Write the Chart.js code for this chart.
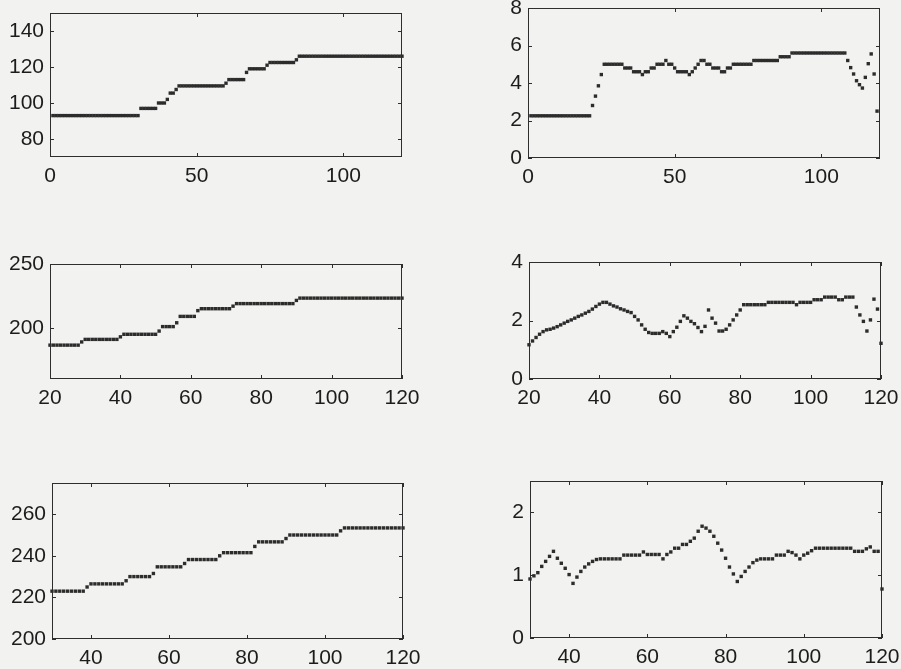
<!DOCTYPE html>
<html>
<head>
<meta charset="utf-8">
<script src="https://cdn.jsdelivr.net/npm/chart.js@4.4.0/dist/chart.umd.min.js"></script>
<style>
  html, body { margin: 0; padding: 0; background: #f2f2f0; }
  body { width: 901px; height: 669px; position: relative; overflow: hidden; }
  canvas { position: absolute; }
</style>
</head>
<body>
<canvas id="c1"></canvas>
<canvas id="c2"></canvas>
<canvas id="c3"></canvas>
<canvas id="c4"></canvas>
<canvas id="c5"></canvas>
<canvas id="c6"></canvas>
<script>
// ---- data (one value per integer x) ----
const p1Start = 1;
const p1Values = [
  93, 93, 93, 93, 93, 93, 93, 93, 93, 93,
  93, 93, 93, 93, 93, 93, 93, 93, 93, 93,
  93, 93, 93, 93, 93, 93, 93, 93, 93, 93,
  97, 97, 97, 97, 97, 97, 100, 100, 100, 102,
  105.5, 105.5, 107.5, 109.5, 109.5, 109.5, 109.5, 109.5, 109.5, 109.5,
  109.5, 109.5, 109.5, 109.5, 109.5, 109.5, 109.5, 109.5, 109.5, 111,
  113, 113, 113, 113, 113, 113, 117, 119, 119, 119,
  119, 119, 119, 121, 122.5, 122.5, 122.5, 122.5, 122.5, 122.5,
  122.5, 122.5, 122.5, 124, 126, 126, 126, 126, 126, 126,
  126, 126, 126, 126, 126, 126, 126, 126, 126, 126,
  126, 126, 126, 126, 126, 126, 126, 126, 126, 126,
  126, 126, 126, 126, 126, 126, 126, 126, 126, 126
];
const p1XTicks = [0, 50, 100];
const p1YTicks = [80, 100, 120, 140];

const p2Start = 1;
const p2Values = [
  2.25, 2.25, 2.25, 2.25, 2.25, 2.25, 2.25, 2.25, 2.25, 2.25,
  2.25, 2.25, 2.25, 2.25, 2.25, 2.25, 2.25, 2.25, 2.25, 2.25,
  2.25, 2.8, 3.3, 3.85, 4.45, 5.0, 5.0, 5.0, 5.0, 5.0,
  5.0, 5.0, 4.8, 4.8, 4.8, 4.6, 4.6, 4.6, 4.45, 4.6,
  4.6, 4.8, 4.8, 5.0, 5.0, 5.0, 5.2, 5.0, 5.0, 4.8,
  4.6, 4.6, 4.6, 4.6, 4.45, 4.6, 4.8, 5.0, 5.2, 5.2,
  5.0, 5.0, 4.8, 4.8, 4.8, 4.6, 4.6, 4.8, 4.8, 5.0,
  5.0, 5.0, 5.0, 5.0, 5.0, 5.0, 5.2, 5.2, 5.2, 5.2,
  5.2, 5.2, 5.2, 5.2, 5.2, 5.4, 5.4, 5.4, 5.4, 5.6,
  5.6, 5.6, 5.6, 5.6, 5.6, 5.6, 5.6, 5.6, 5.6, 5.6,
  5.6, 5.6, 5.6, 5.6, 5.6, 5.6, 5.6, 5.6, 5.2, 4.82,
  4.48, 4.12, 3.91, 3.73, 4.3, 5.03, 5.55, 4.48, 2.5
];
const p2XTicks = [0, 50, 100];
const p2YTicks = [0, 2, 4, 6, 8];

const p3Start = 20;
const p3Values = [
  186.5, 186.5, 186.5, 186.5, 186.5, 186.5, 186.5, 186.5, 186.5, 189,
  191, 191, 191, 191, 191, 191, 191, 191, 191, 191,
  193, 195, 195, 195, 195, 195, 195, 195, 195, 195,
  195, 197.5, 201, 201, 201, 201, 204, 209, 209, 209,
  209, 209, 213.5, 215, 215, 215, 215, 215, 215, 215,
  215, 215, 217, 219, 219, 219, 219, 219, 219, 219,
  219, 219, 219, 219, 219, 219, 219, 219, 219, 219,
  221.5, 223.3, 223.3, 223.3, 223.3, 223.3, 223.3, 223.3, 223.3, 223.3,
  223.3, 223.3, 223.3, 223.3, 223.3, 223.3, 223.3, 223.3, 223.3, 223.3,
  223.3, 223.3, 223.3, 223.3, 223.3, 223.3, 223.3, 223.3, 223.3, 223.3,
  223.3
];
const p3XTicks = [20, 40, 60, 80, 100, 120];
const p3YTicks = [200, 250];

const p4Start = 20;
const p4Values = [
  1.17, 1.30, 1.42, 1.53, 1.62, 1.68, 1.70, 1.74, 1.79, 1.85,
  1.91, 1.97, 2.02, 2.08, 2.14, 2.19, 2.25, 2.31, 2.39, 2.48,
  2.56, 2.62, 2.62, 2.56, 2.50, 2.46, 2.40, 2.36, 2.31, 2.27,
  2.14, 2.02, 1.85, 1.70, 1.59, 1.56, 1.56, 1.56, 1.62, 1.56,
  1.45, 1.62, 1.77, 1.97, 2.16, 2.08, 1.97, 1.89, 1.76, 1.62,
  1.80, 2.36, 2.08, 1.91, 1.64, 1.64, 1.70, 1.85, 2.02, 2.19,
  2.36, 2.54, 2.54, 2.54, 2.54, 2.54, 2.54, 2.54, 2.62, 2.62,
  2.62, 2.62, 2.62, 2.62, 2.62, 2.62, 2.54, 2.62, 2.62, 2.62,
  2.62, 2.71, 2.71, 2.71, 2.80, 2.80, 2.80, 2.80, 2.71, 2.71,
  2.80, 2.80, 2.80, 2.46, 2.19, 1.97, 1.64, 2.02, 2.73, 2.39,
  1.22
];
const p4XTicks = [20, 40, 60, 80, 100, 120];
const p4YTicks = [0, 2, 4];

const p5Start = 30;
const p5Values = [
  223, 223, 223, 223, 223, 223, 223, 223, 223, 225,
  226.5, 226.5, 226.5, 226.5, 226.5, 226.5, 226.5, 226.5, 226.5, 228,
  230, 230, 230, 230, 230, 230, 231.5, 234.7, 234.7, 234.7,
  234.7, 234.7, 234.7, 234.7, 236.3, 238.2, 238.2, 238.2, 238.2, 238.2,
  238.2, 238.2, 238.2, 240, 241.5, 241.5, 241.5, 241.5, 241.5, 241.5,
  241.5, 241.5, 244.5, 246.7, 246.7, 246.7, 246.7, 246.7, 246.7, 246.7,
  248.3, 250, 250, 250, 250, 250, 250, 250, 250, 250,
  250, 250, 250, 250, 252, 253.4, 253.4, 253.4, 253.4, 253.4,
  253.4, 253.4, 253.4, 253.4, 253.4, 253.4, 253.4, 253.4, 253.4, 253.4,
  253.4
];
const p5XTicks = [40, 60, 80, 100, 120];
const p5YTicks = [200, 220, 240, 260];

const p6Start = 30;
const p6Values = [
  0.94, 0.99, 1.04, 1.14, 1.22, 1.30, 1.38, 1.27, 1.19, 1.11,
  1.01, 0.87, 0.97, 1.06, 1.13, 1.18, 1.22, 1.25, 1.26, 1.26,
  1.26, 1.26, 1.26, 1.26, 1.32, 1.32, 1.32, 1.32, 1.32, 1.37,
  1.33, 1.33, 1.33, 1.33, 1.26, 1.33, 1.37, 1.43, 1.43, 1.49,
  1.49, 1.54, 1.59, 1.70, 1.78, 1.75, 1.70, 1.62, 1.51, 1.40,
  1.27, 1.13, 1.02, 0.90, 0.98, 1.06, 1.13, 1.20, 1.24, 1.26,
  1.26, 1.26, 1.26, 1.32, 1.32, 1.32, 1.38, 1.36, 1.32, 1.26,
  1.32, 1.35, 1.39, 1.43, 1.43, 1.43, 1.43, 1.43, 1.43, 1.43,
  1.43, 1.43, 1.43, 1.38, 1.38, 1.38, 1.42, 1.45, 1.38, 1.38,
  0.78
];
const p6XTicks = [40, 60, 80, 100, 120];
const p6YTicks = [0, 1, 2];

// ---- drawing ----
const FONT = { family: "'Liberation Sans', Arial, sans-serif", size: 21 };
const TEXT = '#1c1c1c';

// MATLAB-like frame with inward ticks on all four sides
const boxPlugin = {
  id: 'matlabBox',
  beforeDatasetsDraw(chart) {
    const { ctx, chartArea: a, scales: { x, y } } = chart;
    ctx.save();
    ctx.strokeStyle = '#2e2e2e';
    ctx.lineWidth = 1;
    ctx.strokeRect(a.left + 0.5, a.top + 0.5, a.right - a.left - 1, a.bottom - a.top - 1);
    ctx.beginPath();
    x.ticks.forEach(t => {
      const px = Math.round(x.getPixelForValue(t.value)) + 0.5;
      ctx.moveTo(px, a.bottom); ctx.lineTo(px, a.bottom - 4);
      ctx.moveTo(px, a.top); ctx.lineTo(px, a.top + 4);
    });
    y.ticks.forEach(t => {
      const py = Math.round(y.getPixelForValue(t.value)) + 0.5;
      ctx.moveTo(a.left, py); ctx.lineTo(a.left + 4, py);
      ctx.moveTo(a.right, py); ctx.lineTo(a.right - 4, py);
    });
    ctx.stroke();
    ctx.restore();
  }
};

function makePanel(id, rect, box, start, values, xRange, yRange, xTicks, yTicks) {
  const cv = document.getElementById(id);
  cv.width = rect.w;
  cv.height = rect.h;
  cv.style.left = rect.x + 'px';
  cv.style.top = rect.y + 'px';

  const pts = values.map((v, i) => ({ x: start + i, y: v }));

  new Chart(cv, {
    type: 'scatter',
    data: {
      datasets: [{
        data: pts,
        pointStyle: 'rect',
        pointRadius: 2.4,
        backgroundColor: '#2c2c2c',
        borderWidth: 0,
        clip: false
      }]
    },
    options: {
      responsive: false,
      animation: false,
      events: [],
      layout: {
        padding: { left: 0, top: box.t - rect.y, right: rect.x + rect.w - box.r, bottom: 0 }
      },
      plugins: { legend: { display: false }, tooltip: { enabled: false } },
      scales: {
        x: {
          type: 'linear',
          min: xRange[0], max: xRange[1],
          grid: { display: false, drawTicks: false },
          border: { display: false },
          afterBuildTicks: s => { s.ticks = xTicks.map(v => ({ value: v })); },
          afterFit: s => { s.height = rect.y + rect.h - box.b; s.paddingLeft = 0; s.paddingRight = 0; },
          ticks: { color: TEXT, font: FONT, padding: 7, maxRotation: 0, autoSkip: false }
        },
        y: {
          type: 'linear',
          min: yRange[0], max: yRange[1],
          grid: { display: false, drawTicks: false },
          border: { display: false },
          afterBuildTicks: s => { s.ticks = yTicks.map(v => ({ value: v })); },
          afterFit: s => { s.width = box.l - rect.x; s.paddingTop = 0; s.paddingBottom = 0; },
          ticks: { color: TEXT, font: FONT, padding: 6, autoSkip: false }
        }
      }
    },
    plugins: [boxPlugin]
  });
}

makePanel('c1', { x: 0, y: 0, w: 450, h: 222 }, { l: 50, t: 13, r: 402, b: 157 },
  p1Start, p1Values, [0, 120], [70, 150], p1XTicks, p1YTicks);
makePanel('c2', { x: 450, y: 0, w: 451, h: 222 }, { l: 528, t: 8, r: 880, b: 158 },
  p2Start, p2Values, [0, 120], [0, 8], p2XTicks, p2YTicks);
makePanel('c3', { x: 0, y: 222, w: 450, h: 222 }, { l: 50, t: 264, r: 402, b: 379 },
  p3Start, p3Values, [20, 120], [160, 250], p3XTicks, p3YTicks);
makePanel('c4', { x: 450, y: 222, w: 451, h: 222 }, { l: 529, t: 262, r: 881, b: 379 },
  p4Start, p4Values, [20, 120], [0, 4], p4XTicks, p4YTicks);
makePanel('c5', { x: 0, y: 444, w: 450, h: 225 }, { l: 52, t: 483, r: 403, b: 639 },
  p5Start, p5Values, [30, 120], [200, 275], p5XTicks, p5YTicks);
makePanel('c6', { x: 450, y: 444, w: 451, h: 225 }, { l: 530, t: 481, r: 882, b: 638 },
  p6Start, p6Values, [30, 120], [0, 2.5], p6XTicks, p6YTicks);
</script>
</body>
</html>
